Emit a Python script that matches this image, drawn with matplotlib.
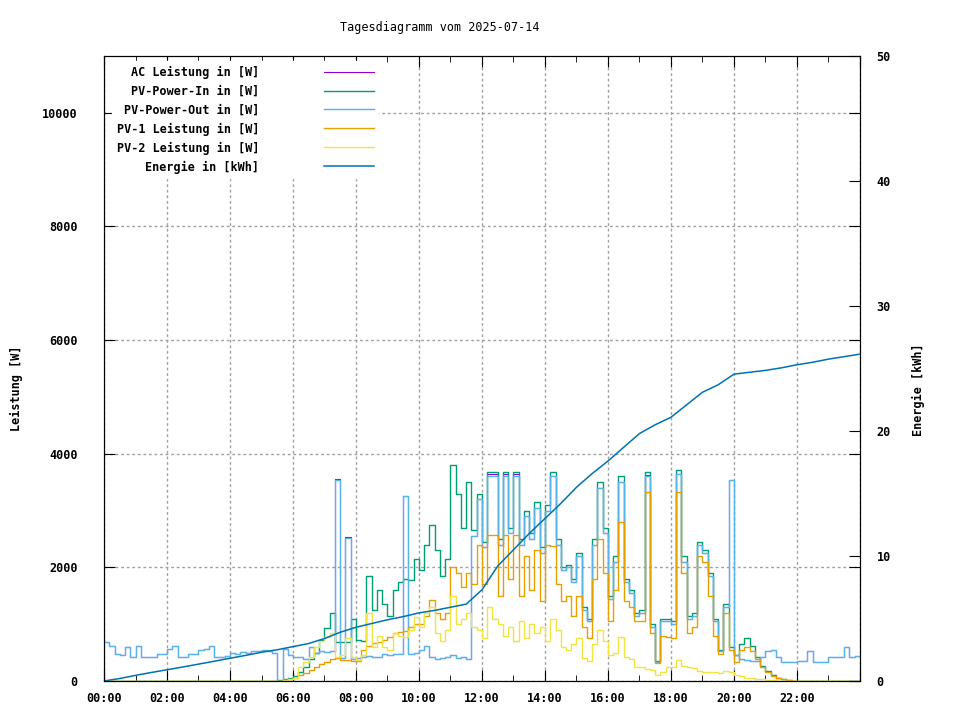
import numpy as np
import matplotlib
matplotlib.use("Agg")
import matplotlib.pyplot as plt
from matplotlib.ticker import MultipleLocator, FuncFormatter

plt.rcParams['font.family'] = ['DejaVu Sans Mono']
plt.rcParams['font.weight'] = 'bold'
plt.rcParams['font.size'] = 8.5

# Messwerte im 10-Minuten-Raster (00:00 .. 24:00), Leistung in W
zeit = np.arange(145) / 6.0

ac_leistung = [
    690, 620, 470, 450, 600, 430, 620, 420, 420, 430, 480, 470,
    560, 620, 430, 420, 480, 470, 540, 560, 620, 430, 420, 440,
    490, 480, 510, 500, 520, 520, 540, 530, 490, 0, 560, 450,
    430, 420, 380, 600, 500, 520, 510, 520, 3560, 400, 2540, 380,
    400, 430, 440, 430, 420, 470, 460, 480, 470, 3250, 470, 500,
    540, 620, 420, 380, 400, 420, 460, 400, 420, 380, 2550, 3200,
    2350, 3640, 3640, 2400, 3640, 2600, 3640, 2400, 2900, 2500, 3050, 2250,
    3000, 3600, 2400, 1950, 2000, 1750, 2200, 1250, 1050, 2400, 3400, 2600,
    1450, 2100, 3500, 1750, 1550, 1150, 1200, 3620, 950, 330, 1050, 1050,
    1000, 3650, 2100, 1100, 1150, 2400, 2250, 1850, 1050, 520, 1300, 3540,
    450, 380, 370, 360, 360, 420, 530, 550, 420, 330, 340, 330,
    350, 350, 530, 340, 330, 330, 420, 430, 420, 600, 430, 440,
    430]

pv_power_in = [
    0, 0, 0, 0, 0, 0, 0, 0, 0, 0, 0, 0,
    0, 0, 0, 0, 0, 0, 0, 0, 0, 0, 0, 0,
    0, 0, 0, 0, 0, 0, 0, 0, 0, 20, 40, 60,
    80, 150, 250, 380, 500, 720, 930, 1200, 680, 680, 690, 1100,
    720, 700, 1850, 1250, 1600, 1350, 1150, 1600, 1750, 1800, 1780, 2150,
    1950, 2400, 2750, 2300, 1850, 2150, 3800, 3300, 2700, 3500, 2650, 3300,
    2450, 3680, 3680, 2500, 3680, 2700, 3680, 2500, 3000, 2600, 3150, 2350,
    3100, 3680, 2500, 2000, 2050, 1800, 2250, 1300, 1100, 2500, 3500, 2700,
    1500, 2200, 3600, 1800, 1600, 1200, 1250, 3680, 1000, 350, 1100, 1100,
    1050, 3720, 2200, 1150, 1200, 2450, 2300, 1900, 1100, 550, 1350, 600,
    450, 650, 760, 620, 420, 270, 170, 100, 60, 30, 15, 5,
    0, 0, 0, 0, 0, 0, 0, 0, 0, 0, 0, 0,
    0]

pv_power_out = [
    690, 620, 470, 450, 600, 430, 620, 420, 420, 430, 480, 470,
    560, 620, 430, 420, 480, 470, 540, 560, 620, 430, 420, 440,
    490, 480, 510, 500, 520, 520, 540, 530, 490, 0, 560, 450,
    430, 420, 380, 600, 500, 520, 510, 520, 3540, 400, 2520, 380,
    400, 430, 440, 430, 420, 470, 460, 480, 470, 3250, 470, 500,
    540, 620, 420, 380, 400, 420, 460, 400, 420, 380, 2550, 3200,
    2350, 3600, 3600, 2400, 3600, 2600, 3600, 2400, 2900, 2500, 3050, 2250,
    3000, 3600, 2400, 1950, 2000, 1750, 2200, 1250, 1050, 2400, 3400, 2600,
    1450, 2100, 3500, 1750, 1550, 1150, 1200, 3600, 950, 330, 1050, 1050,
    1000, 3650, 2100, 1100, 1150, 2400, 2250, 1850, 1050, 520, 1300, 3540,
    450, 380, 370, 360, 360, 420, 530, 550, 420, 330, 340, 330,
    350, 350, 530, 340, 330, 330, 420, 430, 420, 600, 430, 440,
    430]

pv1_leistung = [
    0, 0, 0, 0, 0, 0, 0, 0, 0, 0, 0, 0,
    0, 0, 0, 0, 0, 0, 0, 0, 0, 0, 0, 0,
    0, 0, 0, 0, 0, 0, 0, 0, 0, 5, 20, 40,
    60, 100, 140, 200, 250, 300, 340, 390, 400, 370, 370, 360,
    350, 550, 620, 670, 680, 720, 780, 850, 860, 880, 950, 1000,
    1000, 1150, 1430, 1200, 1100, 1200, 2000, 1900, 1650, 1900, 1700, 2400,
    1700, 2570, 2570, 1500, 2570, 1800, 2570, 1500, 2200, 1600, 2300, 1400,
    2400, 2370, 1700, 1400, 1500, 1150, 1500, 950, 750, 1800, 2500, 1900,
    1050, 1600, 2800, 1400, 1300, 1050, 1050, 3330, 850, 320, 800, 780,
    760, 3330, 1900, 850, 950, 2200, 2100, 1500, 800, 480, 1200, 550,
    330, 550, 600, 520, 380, 240, 150, 90, 60, 30, 15, 5,
    0, 0, 0, 0, 0, 0, 0, 0, 0, 0, 0, 0,
    0]

pv2_leistung = [
    0, 0, 0, 0, 0, 0, 0, 0, 0, 0, 0, 0,
    0, 0, 0, 0, 0, 0, 0, 0, 0, 0, 0, 0,
    0, 0, 0, 0, 0, 0, 0, 0, 0, 5, 20, 40,
    60, 250, 330, 420, 600, 700, 780, 850, 420, 450, 760, 430,
    370, 450, 1200, 600, 800, 600, 550, 850, 800, 780, 900, 1130,
    950, 1200, 1300, 850, 700, 900, 1500, 1000, 1100, 1200, 950, 900,
    750, 1300, 1100, 1000, 800, 950, 700, 1050, 750, 1000, 850, 950,
    700, 1100, 900, 600, 550, 650, 750, 400, 350, 650, 900, 700,
    450, 500, 780, 420, 380, 250, 250, 220, 200, 100, 150, 250,
    250, 370, 260, 240, 230, 170, 160, 150, 150, 140, 170, 160,
    100, 80, 60, 50, 40, 30, 20, 10, 0, 0, 0, 0,
    0, 0, 0, 0, 0, 0, 0, 0, 0, 0, 0, 0,
    0]

# Energie in kWh, halbstuendlich
zeit_energie = np.arange(49) * 0.5
energie = [
    0.0, 0.2, 0.45, 0.68, 0.9, 1.12, 1.35, 1.58, 1.82, 2.05, 2.3, 2.5,
    2.75, 3.0, 3.4, 3.9, 4.3, 4.6, 4.9, 5.15, 5.45, 5.65, 5.9, 6.15,
    7.3, 9.2, 10.5, 11.8, 13.0, 14.2, 15.5, 16.6, 17.6, 18.7, 19.8, 20.5,
    21.1, 22.1, 23.1, 23.7, 24.55, 24.7, 24.85, 25.05, 25.3, 25.5, 25.75, 25.95,
    26.15]

fig = plt.figure(figsize=(9.6, 7.2), dpi=100)
ax = fig.add_axes([104 / 960, 39 / 720, 756 / 960, 625 / 720])

st = 'steps-post'
ax.plot(zeit, ac_leistung, color='#9400d3', lw=0.8, drawstyle=st, label='AC Leistung in [W]')
ax.plot(zeit, pv_power_in, color='#009e73', lw=1.0, drawstyle=st, label='PV-Power-In in [W]')
ax.plot(zeit, pv_power_out, color='#56b4e9', lw=1.0, drawstyle=st, label='PV-Power-Out in [W]')
ax.plot(zeit, pv1_leistung, color='#e69f00', lw=1.0, drawstyle=st, label='PV-1 Leistung in [W]')
ax.plot(zeit, pv2_leistung, color='#f0e442', lw=1.0, drawstyle=st, label='PV-2 Leistung in [W]')

ax2 = ax.twinx()
ax2.plot(zeit_energie, energie, color='#0072b2', lw=1.1, label='Energie in [kWh]')

ax.set_xlim(0, 24)
ax.set_ylim(0, 11000)
ax2.set_ylim(0, 50)

ax.xaxis.set_major_locator(MultipleLocator(2))
ax.xaxis.set_minor_locator(MultipleLocator(1))
ax.xaxis.set_major_formatter(FuncFormatter(lambda v, p: '%02d:00' % int(v) if v < 24 else ''))
ax.yaxis.set_major_locator(MultipleLocator(2000))
ax2.yaxis.set_major_locator(MultipleLocator(10))

ax.grid(True, which='major', color='#a0a0a0', linestyle=(0, (2, 2)), lw=1)
ax.set_axisbelow(True)

ax.tick_params(which='both', direction='in', top=True, right=True, labelright=False, color='black')
ax.tick_params(which='major', length=8)
ax.tick_params(which='minor', length=4)
ax.tick_params(axis='y', pad=19)
ax.tick_params(axis='x', pad=8)
ax2.tick_params(direction='in', length=8, pad=12)

for sp in ax.spines.values():
    sp.set_color('black')

fig.text(440 / 960, 1 - 27 / 720, 'Tagesdiagramm vom 2025-07-14', ha='center', va='center', fontweight='normal')
fig.text(16 / 960, 1 - 388 / 720, 'Leistung [W]', rotation=90, ha='center', va='center')
fig.text(918 / 960, 1 - 390 / 720, 'Energie [kWh]', rotation=90, ha='center', va='center')

h1, l1 = ax.get_legend_handles_labels()
h2, l2 = ax2.get_legend_handles_labels()
leg = ax2.legend(h1 + h2, l1 + l2, loc='upper left', bbox_to_anchor=(8 / 756, 1 - 5 / 625),
                 markerfirst=False, frameon=True,
                 fancybox=False, edgecolor='white', facecolor='white', framealpha=1,
                 handlelength=4.2, handletextpad=5.5, labelspacing=0.5,
                 borderpad=0.4, borderaxespad=0.0)

fig.savefig('out.png', dpi=100)
